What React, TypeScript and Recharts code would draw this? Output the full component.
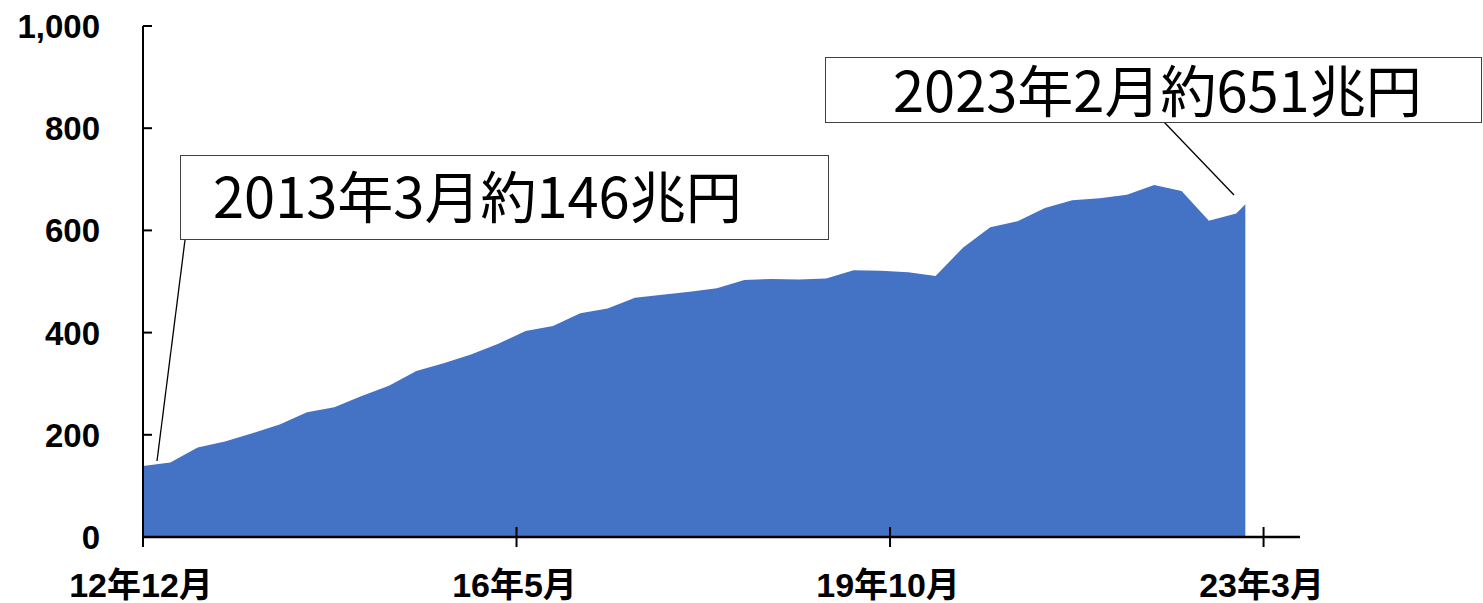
import React from "react";
import { AreaChart, Area, XAxis, YAxis } from "recharts";

// months counted from 2012/12, quarterly points, last one is the 2023/2 value
const months = [
  0, 3, 6, 9, 12, 15, 18, 21, 24, 27, 30, 33, 36, 39, 42, 45, 48, 51, 54, 57,
  60, 63, 66, 69, 72, 75, 78, 81, 84, 87, 90, 93, 96, 99, 102, 105, 108, 111,
  114, 117, 120, 121,
];
const values = [
  139, 146, 175, 187, 203, 220, 244, 254, 276, 296, 325, 340, 357, 378, 403,
  413, 438, 447, 468, 474, 480, 487, 503, 505, 504, 506, 522, 521, 518, 511,
  566, 606, 618, 644, 659, 663, 670, 689, 677, 619, 633, 651,
];
const xTicks = [0, 41, 82, 123];
const xTickLabels = ["12年12月", "16年5月", "19年10月", "23年3月"];
const yTicks = [0, 200, 400, 600, 800, 1000];

const data = months.map((m, i) => ({ m, v: values[i] }));

const AXIS_FONT = "'Liberation Sans', Arial, 'Noto Sans CJK JP', sans-serif";
const NOTE_FONT = "'Noto Sans CJK JP', 'Noto Sans', sans-serif";

const XTick = ({ x, y, payload }: any) => {
  const idx = xTicks.indexOf(payload.value);
  return (
    <g>
      <line x1={x} x2={x} y1={y - 10} y2={y + 10} stroke="#000" strokeWidth={2} />
      <text
        x={x - 2}
        y={y + 60}
        textAnchor="middle"
        fontFamily={AXIS_FONT}
        fontWeight="bold"
        fontSize={34}
        fill="#000"
      >
        {xTickLabels[idx]}
      </text>
    </g>
  );
};

const YTick = ({ x, y, payload }: any) => (
  <g>
    <line x1={x} x2={x + 9} y1={y} y2={y} stroke="#000" strokeWidth={2} />
    <text
      x={x - 43}
      y={y + 12}
      textAnchor="end"
      fontFamily={AXIS_FONT}
      fontWeight="bold"
      fontSize={33}
      fill="#000"
    >
      {payload.value.toLocaleString("en-US")}
    </text>
  </g>
);

export default function App() {
  return (
    <div style={{ position: "absolute", left: 0, top: 0, width: 1483, height: 603, background: "#fff" }}>
      <AreaChart
        width={1483}
        height={603}
        data={data}
        margin={{ top: 26, right: 183, left: 0, bottom: 0 }}
      >
        <XAxis
          dataKey="m"
          type="number"
          domain={[0, 127]}
          ticks={xTicks}
          tickLine={false}
          tickSize={0}
          tickMargin={0}
          height={66}
          axisLine={{ stroke: "#000", strokeWidth: 2.5 }}
          tick={<XTick />}
          interval={0}
        />
        <YAxis
          type="number"
          domain={[0, 1000]}
          ticks={yTicks}
          width={143}
          tickLine={false}
          tickSize={0}
          tickMargin={0}
          axisLine={{ stroke: "#000", strokeWidth: 2 }}
          tick={<YTick />}
          interval={0}
        />
        <Area
          type="linear"
          dataKey="v"
          fill="#4472C4"
          fillOpacity={1}
          stroke="none"
          isAnimationActive={false}
        />
      </AreaChart>
      <svg
        width={1483}
        height={603}
        style={{ position: "absolute", left: 0, top: 0, pointerEvents: "none" }}
      >
        <line x1={185} y1={240} x2={157} y2={461} stroke="#000" strokeWidth={1.3} />
        <rect x={180.5} y={155.5} width={648} height={84} fill="#fff" stroke="#404040" strokeWidth={1} />
        <text x={213} y={218} fontFamily={NOTE_FONT} fontSize={56} fill="#000">
          2013年3月約146兆円
        </text>
        <line x1={1164} y1={122} x2={1234} y2={195} stroke="#000" strokeWidth={1.3} />
        <rect x={825.5} y={57.5} width={656} height={65} fill="#fff" stroke="#404040" strokeWidth={1} />
        <text x={893} y={112} fontFamily={NOTE_FONT} fontSize={56} fill="#000">
          2023年2月約651兆円
        </text>
      </svg>
    </div>
  );
}
